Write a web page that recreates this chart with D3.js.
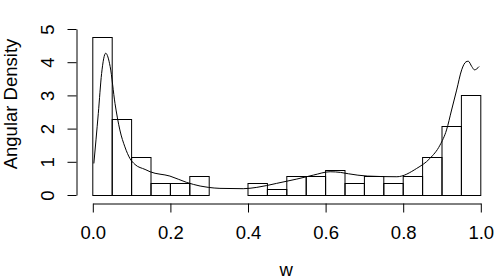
<!DOCTYPE html>
<html>
<head>
<meta charset="utf-8">
<script src="https://cdn.jsdelivr.net/npm/d3@7"></script>
<style>
  body { margin: 0; background: #fff; }
  svg text { font-family: "Liberation Sans", Arial, sans-serif; fill: #000; }
</style>
</head>
<body>
<svg id="chart" width="500" height="280"></svg>
<script>
// histogram bins (w) and density heights
const binStart = [0, 0.05, 0.1, 0.15, 0.2, 0.25, 0.3, 0.35, 0.4, 0.45,
                  0.5, 0.55, 0.6, 0.65, 0.7, 0.75, 0.8, 0.85, 0.9, 0.95];
const binWidth = 0.05;
const binHeight = [4.77, 2.28, 1.14, 0.35, 0.35, 0.57, 0, 0, 0.35, 0.17,
                   0.57, 0.57, 0.74, 0.35, 0.57, 0.35, 0.57, 1.14, 2.08, 3.02];

// kernel density curve
const curveW = [0.004, 0.0095, 0.0155, 0.024, 0.0345, 0.046, 0.0585, 0.071, 0.084, 0.097,
                0.11, 0.136, 0.149, 0.2, 0.243, 0.278, 0.299, 0.329, 0.389, 0.424,
                0.475, 0.527, 0.57, 0.613, 0.64, 0.66, 0.709, 0.785, 0.836, 0.87,
                0.896, 0.913, 0.926, 0.939, 0.952, 0.963, 0.969, 0.978, 0.985, 0.997];
const curveD = [0.95, 1.66, 2.46, 3.66, 4.27, 3.87, 2.76, 1.96, 1.45, 1.1,
                0.92, 0.77, 0.70, 0.57, 0.38, 0.27, 0.23, 0.20, 0.19, 0.23,
                0.35, 0.48, 0.6, 0.70, 0.68, 0.64, 0.57, 0.55, 0.80, 1.1,
                1.5, 1.96, 2.56, 3.16, 3.77, 4.01, 4.03, 3.87, 3.77, 3.87];

const xTicks = [0, 0.2, 0.4, 0.6, 0.8, 1.0];
const yTicks = [0, 1, 2, 3, 4, 5];

const svg = d3.select("#chart");
const fontSize = "18.5px";

const x = d3.scaleLinear().domain([0, 1]).range([92.3, 480.3]);
const y = d3.scaleLinear().domain([0, 5]).range([195, 29]);

// bars
svg.append("g")
  .selectAll("rect")
  .data(binStart)
  .join("rect")
    .attr("x", d => x(d) + 0.5)
    .attr("y", (d, i) => Math.round(y(binHeight[i])) + 0.5)
    .attr("width", d => x(d + binWidth) - x(d))
    .attr("height", (d, i) => Math.round(y(0)) - Math.round(y(binHeight[i])))
    .attr("fill", "none")
    .attr("stroke", "#000")
    .attr("stroke-width", 1);

// density line
const line = d3.line()
  .x(d => x(d[0]))
  .y(d => y(d[1]))
  .curve(d3.curveMonotoneX);

svg.append("path")
  .datum(curveW.map((w, i) => [w, curveD[i]]))
  .attr("d", line)
  .attr("fill", "none")
  .attr("stroke", "#000")
  .attr("stroke-width", 1);

// x axis
const xAxis = svg.append("g")
  .attr("transform", "translate(0.5,203.5)")
  .call(d3.axisBottom(x).tickValues(xTicks).tickSize(9).tickSizeOuter(0).tickFormat(d3.format(".1f")));
xAxis.selectAll("text")
  .attr("y", 35)
  .attr("dy", 0)
  .style("font-size", fontSize);

// y axis
const yAxis = svg.append("g")
  .attr("transform", "translate(76.5,0)")
  .call(d3.axisLeft(y).tickValues(yTicks).tickSize(9).tickSizeOuter(0).tickFormat(d3.format("d")));
yAxis.selectAll("text")
  .attr("x", null)
  .attr("dy", 0)
  .attr("text-anchor", "middle")
  .attr("transform", "translate(-23,0) rotate(-90)")
  .style("font-size", fontSize);

svg.selectAll(".domain, .tick line").attr("stroke", "#000");

// axis titles
svg.append("text")
  .attr("x", 286.3)
  .attr("y", 276)
  .attr("text-anchor", "middle")
  .style("font-size", fontSize)
  .text("w");

svg.append("text")
  .attr("transform", "translate(16.5,104) rotate(-90)")
  .attr("text-anchor", "middle")
  .style("font-size", fontSize)
  .text("Angular Density");
</script>
</body>
</html>
